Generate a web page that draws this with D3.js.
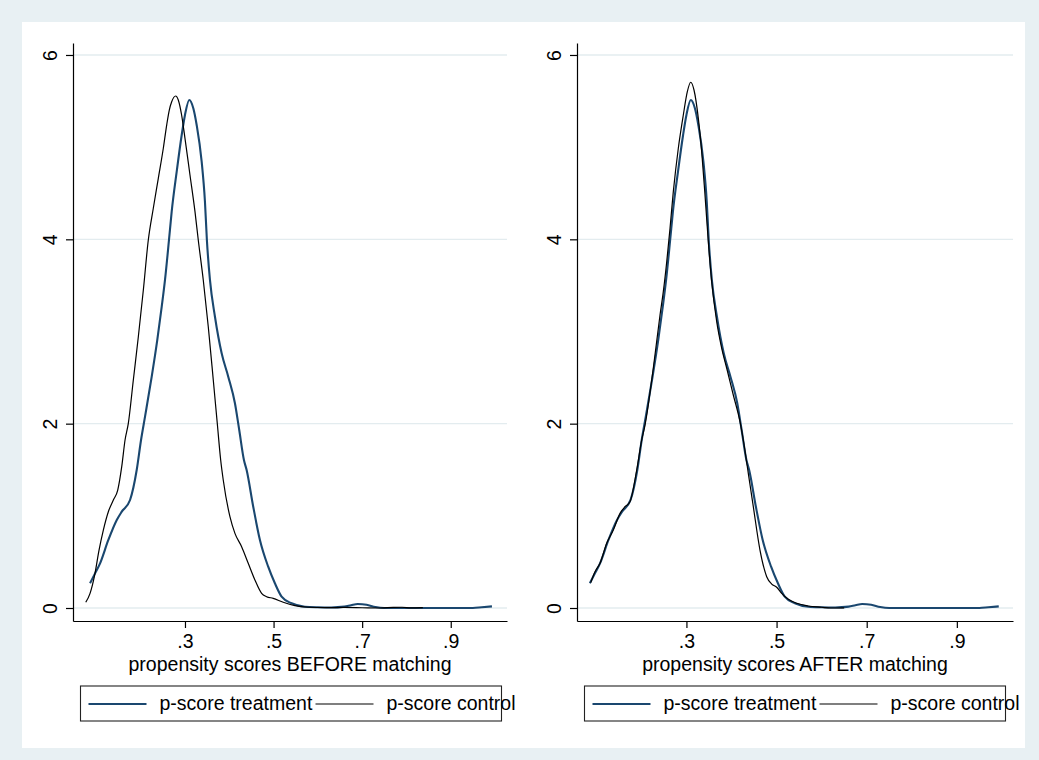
<!DOCTYPE html>
<html>
<head>
<meta charset="utf-8">
<script src="https://cdn.jsdelivr.net/npm/d3@7"></script>
<style>
  html, body { margin: 0; padding: 0; background: #e8f0f3; }
  svg { display: block; }
  text { font-family: "Liberation Sans", Arial, "DejaVu Sans", sans-serif; fill: #000; }
</style>
</head>
<body>
<svg id="chart" width="1039" height="760"></svg>
<script>
// ---------------- data ----------------
const xTickValues = [0.3, 0.5, 0.7, 0.9];
const xTickLabels = [".3", ".5", ".7", ".9"];
const yTickValues = [0, 2, 4, 6];
const yTickLabels = ["0", "2", "4", "6"];

const seriesNames = ["p-score treatment", "p-score control"];
const axisTitles = ["propensity scores BEFORE matching", "propensity scores AFTER matching"];

// treated sample (same in both panels)
const treatScore = [0.0857,0.097,0.1083,0.127,0.146,0.1572,0.176,0.191,0.2008,0.2098,0.2249,0.2375,0.2475,0.2549,0.2639,0.2700,0.2813,0.2926,0.3000,0.3097,0.3188,0.3264,0.3377,0.3451,0.3495,0.3564,0.3677,0.3828,0.3977,0.4128,0.4225,0.4331,0.4392,0.4541,0.4692,0.4879,0.5030,0.5182,0.5407,0.5707,0.60,0.63,0.66,0.675,0.69,0.71,0.73,0.75,0.80,0.85,0.90,0.95,0.97,0.993];
const treatDensity = [0.268,0.376,0.485,0.738,0.955,1.045,1.172,1.497,1.823,2.076,2.510,2.908,3.269,3.559,3.993,4.300,4.734,5.132,5.349,5.512,5.422,5.240,4.842,4.408,3.990,3.559,3.160,2.763,2.510,2.221,1.931,1.606,1.497,1.099,0.738,0.448,0.268,0.123,0.051,0.014,0.008,0.006,0.015,0.030,0.043,0.035,0.010,0.0,0.0,0.0,0.0,0.0,0.008,0.018];

// control sample before matching
const ctrlBeforeScore = [0.076,0.0857,0.0954,0.106,0.1157,0.127,0.1383,0.1482,0.1572,0.1647,0.1721,0.1834,0.1947,0.2060,0.2172,0.2285,0.2398,0.2511,0.2587,0.2646,0.2700,0.2790,0.2849,0.2924,0.3000,0.3113,0.3226,0.3300,0.3413,0.3526,0.3639,0.3729,0.3806,0.3864,0.4015,0.4128,0.4279,0.4428,0.4579,0.4730,0.4843,0.4992,0.5218,0.5482,0.5782,0.62,0.66,0.70,0.74,0.77,0.79,0.81,0.837];
const ctrlBeforeDensity = [0.062,0.159,0.340,0.629,0.846,1.045,1.172,1.280,1.533,1.823,2.004,2.474,2.943,3.450,3.993,4.337,4.662,4.988,5.240,5.403,5.493,5.555,5.512,5.349,5.096,4.698,4.300,3.993,3.559,3.052,2.474,2.004,1.606,1.389,0.991,0.810,0.665,0.485,0.304,0.159,0.123,0.105,0.062,0.025,0.008,0.004,0.006,0.003,0.0,0.006,0.008,0.002,0.005];

// control sample after matching
const ctrlAfterScore = [0.0876,0.0972,0.1083,0.1231,0.1378,0.1527,0.1637,0.1748,0.1897,0.2008,0.2081,0.2265,0.2414,0.2487,0.2563,0.2636,0.2709,0.2820,0.2931,0.3020,0.3095,0.3168,0.3264,0.3339,0.3412,0.3486,0.3561,0.3672,0.3783,0.3894,0.4040,0.4189,0.4262,0.4373,0.4484,0.4632,0.4781,0.4892,0.5003,0.5114,0.5261,0.5447,0.57,0.60,0.62,0.65];
const ctrlAfterDensity = [0.275,0.394,0.485,0.702,0.846,1.027,1.099,1.153,1.497,1.823,1.985,2.601,3.179,3.432,3.757,4.120,4.517,4.988,5.349,5.602,5.704,5.620,5.313,4.951,4.481,3.974,3.540,3.106,2.818,2.601,2.311,2.021,1.823,1.461,1.099,0.629,0.340,0.260,0.225,0.159,0.094,0.051,0.022,0.008,0.0,0.002];

// ---------------- drawing ----------------
const W = 1039, H = 760;
const svg = d3.select("#chart");
const FONT = 19.5;
const blue = "#1a476f";
const gridColor = "#e3ecef";

svg.append("rect").attr("x", 0).attr("y", 0).attr("width", W).attr("height", H).attr("fill", "#e8f0f3");
svg.append("rect").attr("x", 22).attr("y", 22).attr("width", 1003).attr("height", 726).attr("fill", "#ffffff");

const zip = (xs, ys) => xs.map((x, i) => ({ x: x, y: ys[i] }));

const panels = [
  { x0: 73, x1: 507, domain: [0.0472, 1.027], title: axisTitles[0], ctrl: zip(ctrlBeforeScore, ctrlBeforeDensity) },
  { x0: 577, x1: 1013, domain: [0.0572, 1.0246], title: axisTitles[1], ctrl: zip(ctrlAfterScore, ctrlAfterDensity) }
];
const treat = zip(treatScore, treatDensity);

const yTop = 43, yBot = 621;

panels.forEach(p => {
  const g = svg.append("g");
  const x = d3.scaleLinear().domain(p.domain).range([p.x0, p.x1]);
  const y = d3.scaleLinear().domain([-0.141, 6.13]).range([yBot, yTop]);

  // gridlines
  g.append("g").selectAll("line").data(yTickValues).join("line")
    .attr("x1", p.x0).attr("x2", p.x1)
    .attr("y1", d => y(d)).attr("y2", d => y(d))
    .attr("stroke", gridColor).attr("stroke-width", 1.3);

  // y axis
  const ya = g.append("g").attr("transform", `translate(${p.x0},0)`)
    .call(d3.axisLeft(y).tickValues(yTickValues).tickFormat((d, i) => yTickLabels[i]).tickSize(7).tickSizeOuter(0));
  ya.select(".domain").attr("stroke", "#000").attr("stroke-width", 1.2);
  ya.selectAll(".tick line").attr("stroke", "#000").attr("stroke-width", 1.2);
  ya.selectAll(".tick text")
    .attr("transform", "rotate(-90)")
    .attr("x", 0).attr("y", -16).attr("dy", null)
    .attr("text-anchor", "middle")
    .style("font-size", FONT + "px")
    .style("font-family", '"Liberation Sans", Arial, sans-serif');

  // x axis
  const xa = g.append("g").attr("transform", `translate(0,${yBot})`)
    .call(d3.axisBottom(x).tickValues(xTickValues).tickFormat((d, i) => xTickLabels[i]).tickSize(7).tickSizeOuter(0).tickPadding(10));
  xa.select(".domain").attr("stroke", "#000").attr("stroke-width", 1.2);
  xa.selectAll(".tick line").attr("stroke", "#000").attr("stroke-width", 1.2);
  xa.selectAll(".tick text")
    .attr("y", 27).attr("dy", null)
    .style("font-size", FONT + "px")
    .style("font-family", '"Liberation Sans", Arial, sans-serif');

  // axis title
  g.append("text")
    .attr("x", (p.x0 + p.x1) / 2).attr("y", 671)
    .attr("text-anchor", "middle")
    .style("font-size", FONT + "px")
    .text(p.title);

  // curves
  const line = d3.line().x(d => x(d.x)).y(d => y(d.y)).curve(d3.curveMonotoneX);
  g.append("path").datum(treat).attr("d", line)
    .attr("fill", "none").attr("stroke", blue).attr("stroke-width", 2.1).attr("stroke-linejoin", "round");
  g.append("path").datum(p.ctrl).attr("d", line)
    .attr("fill", "none").attr("stroke", "#000").attr("stroke-width", 1.2).attr("stroke-linejoin", "round");

  // legend
  const lx = p.x0 + 7.5, ly = 686, lw = 421, lh = 35;
  const lg = g.append("g");
  lg.append("rect").attr("x", lx).attr("y", ly).attr("width", lw).attr("height", lh)
    .attr("fill", "none").attr("stroke", "#222").attr("stroke-width", 1.1);
  const items = [
    { name: seriesNames[0], color: blue, w: 2.1, l0: 8, l1: 66, t: 79 },
    { name: seriesNames[1], color: "#000", w: 1.2, l0: 235, l1: 293, t: 306 }
  ];
  items.forEach(it => {
    lg.append("line").attr("x1", lx + it.l0).attr("x2", lx + it.l1).attr("y1", 704).attr("y2", 704)
      .attr("stroke", it.color).attr("stroke-width", it.w);
    lg.append("text").attr("x", lx + it.t).attr("y", 710)
      .style("font-size", FONT + "px").text(it.name);
  });
});
</script>
</body>
</html>
